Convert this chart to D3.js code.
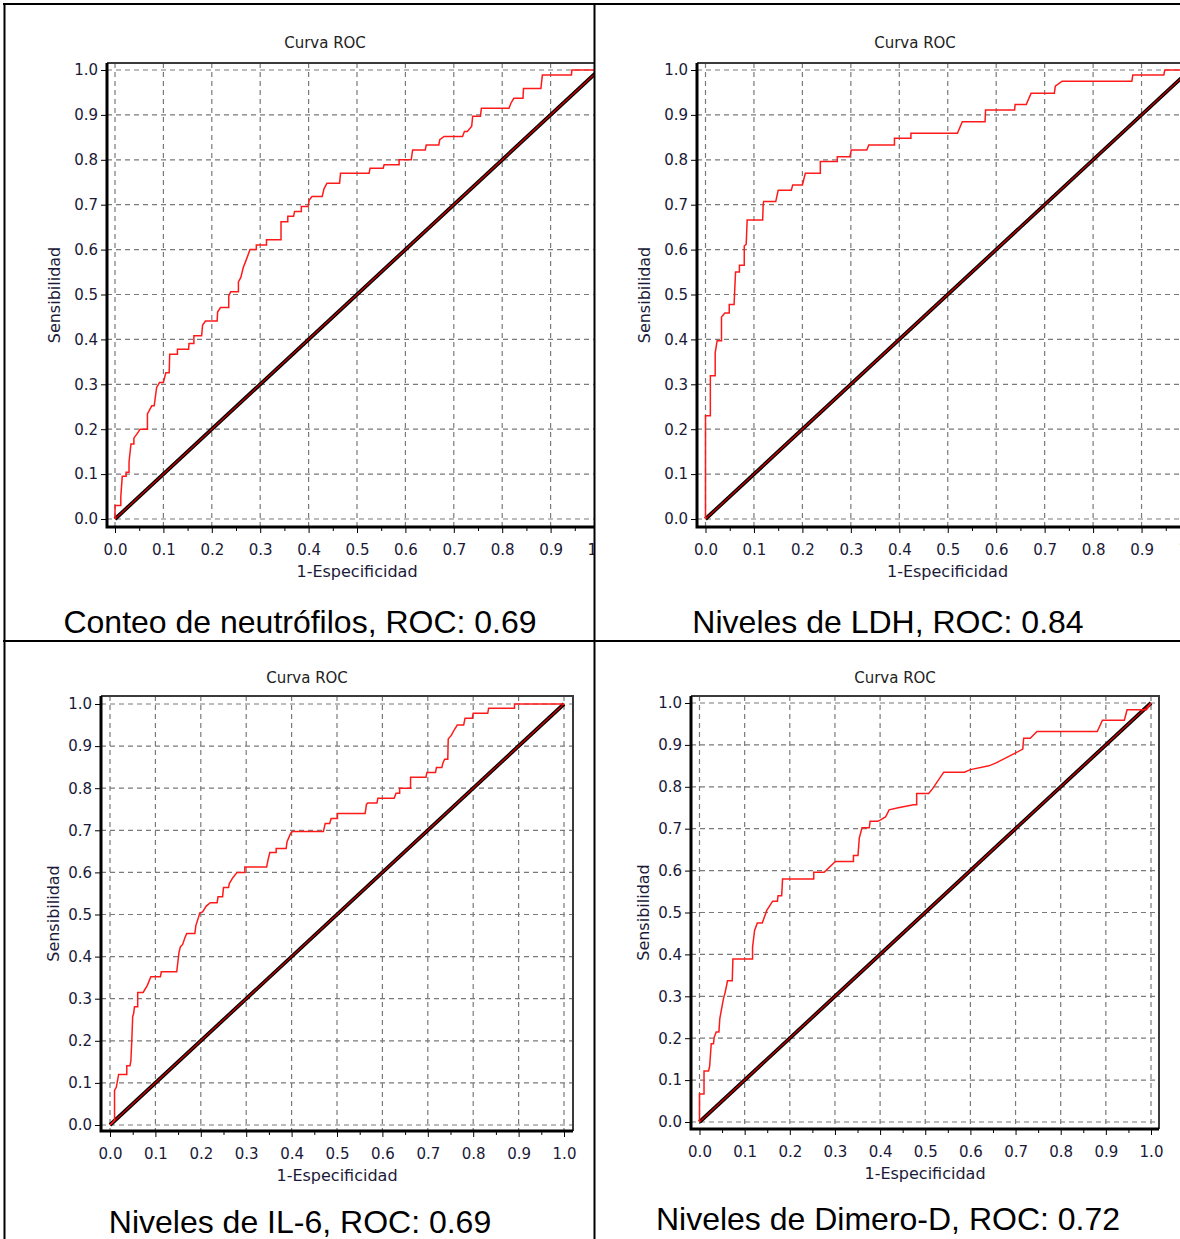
<!DOCTYPE html>
<html>
<head>
<meta charset="utf-8">
<script src="https://cdn.jsdelivr.net/npm/d3@7"></script>
<style>
  body { margin: 0; background: #fff; }
  svg { display: block; }
  .tick text, .lbl { font-family: "DejaVu Sans", sans-serif; fill: #1a1a38; }
  .caption { font-family: "Liberation Sans", Arial, sans-serif; font-size: 32px; fill: #000; }
</style>
</head>
<body>
<svg width="1180" height="1239"></svg>
<script>
// tick values shared by all four panels
const majorTicks = [0, 0.1, 0.2, 0.3, 0.4, 0.5, 0.6, 0.7, 0.8, 0.9, 1.0];
const minorTicks = [0.05, 0.15, 0.25, 0.35, 0.45, 0.55, 0.65, 0.75, 0.85, 0.95];

const chartTitle = "Curva ROC";
const xTitle = "1-Especificidad";
const yTitle = "Sensibilidad";

const captions = [
  "Conteo de neutrófilos, ROC: 0.69",
  "Niveles de LDH, ROC: 0.84",
  "Niveles de IL-6, ROC: 0.69",
  "Niveles de Dimero-D, ROC: 0.72"
];

// reference line
const diagonal = [[0, 0], [1, 1]];

// ROC curves: [1-especificidad, sensibilidad]
const rocNeutrofilos = [[0,0],[0,0.03],[0.012,0.03],[0.012,0.05],[0.015,0.095],[0.023,0.095],[0.023,0.104],[0.029,0.104],[0.029,0.127],[0.033,0.167],[0.039,0.167],[0.039,0.18],[0.045,0.189],[0.052,0.2],[0.067,0.2],[0.067,0.234],[0.076,0.252],[0.081,0.252],[0.086,0.293],[0.092,0.304],[0.1,0.304],[0.105,0.326],[0.112,0.326],[0.113,0.367],[0.129,0.367],[0.129,0.378],[0.152,0.378],[0.153,0.391],[0.163,0.391],[0.163,0.408],[0.179,0.408],[0.181,0.432],[0.187,0.441],[0.211,0.441],[0.212,0.461],[0.218,0.471],[0.235,0.471],[0.235,0.497],[0.239,0.506],[0.255,0.506],[0.255,0.528],[0.26,0.538],[0.265,0.56],[0.269,0.571],[0.279,0.6],[0.292,0.6],[0.292,0.61],[0.313,0.61],[0.313,0.622],[0.343,0.622],[0.343,0.662],[0.357,0.662],[0.357,0.674],[0.369,0.674],[0.371,0.685],[0.385,0.685],[0.385,0.696],[0.399,0.696],[0.401,0.71],[0.407,0.718],[0.428,0.718],[0.432,0.736],[0.438,0.748],[0.464,0.748],[0.466,0.77],[0.525,0.77],[0.527,0.781],[0.554,0.781],[0.556,0.789],[0.587,0.789],[0.587,0.8],[0.612,0.8],[0.615,0.822],[0.641,0.822],[0.643,0.833],[0.669,0.833],[0.671,0.845],[0.68,0.852],[0.718,0.852],[0.722,0.863],[0.728,0.863],[0.737,0.875],[0.739,0.897],[0.755,0.897],[0.757,0.915],[0.814,0.915],[0.818,0.926],[0.824,0.937],[0.843,0.937],[0.844,0.959],[0.88,0.959],[0.883,0.989],[0.943,0.989],[0.944,1],[1,1]];

const rocLDH = [[0,0],[0,0.23],[0.01,0.23],[0.01,0.319],[0.02,0.319],[0.02,0.37],[0.024,0.397],[0.033,0.397],[0.033,0.45],[0.04,0.459],[0.049,0.459],[0.049,0.478],[0.059,0.478],[0.062,0.55],[0.07,0.55],[0.07,0.565],[0.08,0.565],[0.08,0.608],[0.084,0.612],[0.086,0.666],[0.118,0.666],[0.119,0.7],[0.12,0.707],[0.145,0.707],[0.15,0.732],[0.177,0.732],[0.18,0.744],[0.2,0.744],[0.206,0.77],[0.237,0.77],[0.237,0.796],[0.272,0.796],[0.272,0.807],[0.298,0.807],[0.301,0.822],[0.333,0.822],[0.337,0.833],[0.39,0.833],[0.39,0.848],[0.424,0.848],[0.424,0.859],[0.52,0.859],[0.53,0.885],[0.577,0.885],[0.578,0.911],[0.638,0.911],[0.639,0.923],[0.662,0.923],[0.672,0.948],[0.72,0.948],[0.722,0.964],[0.736,0.975],[0.88,0.975],[0.882,0.989],[0.946,0.989],[0.948,1],[1,1]];

const rocIL6 = [[0,0],[0.01,0.011],[0.01,0.082],[0.014,0.09],[0.019,0.12],[0.037,0.12],[0.037,0.141],[0.044,0.141],[0.046,0.152],[0.048,0.2],[0.05,0.258],[0.052,0.264],[0.054,0.281],[0.061,0.281],[0.061,0.315],[0.073,0.315],[0.082,0.331],[0.09,0.352],[0.111,0.352],[0.113,0.364],[0.147,0.364],[0.152,0.41],[0.155,0.423],[0.16,0.429],[0.165,0.445],[0.169,0.455],[0.187,0.455],[0.189,0.473],[0.198,0.504],[0.204,0.506],[0.212,0.52],[0.221,0.528],[0.236,0.528],[0.238,0.542],[0.248,0.542],[0.25,0.564],[0.261,0.564],[0.263,0.574],[0.271,0.588],[0.28,0.6],[0.297,0.6],[0.297,0.613],[0.345,0.613],[0.348,0.629],[0.352,0.647],[0.366,0.647],[0.366,0.657],[0.388,0.657],[0.39,0.673],[0.398,0.693],[0.402,0.697],[0.47,0.697],[0.474,0.716],[0.484,0.716],[0.487,0.728],[0.501,0.728],[0.501,0.74],[0.562,0.74],[0.565,0.762],[0.568,0.765],[0.588,0.765],[0.59,0.776],[0.626,0.776],[0.63,0.788],[0.638,0.788],[0.638,0.8],[0.662,0.8],[0.662,0.826],[0.696,0.826],[0.698,0.837],[0.717,0.837],[0.719,0.849],[0.731,0.849],[0.733,0.859],[0.737,0.869],[0.744,0.869],[0.745,0.917],[0.752,0.926],[0.759,0.94],[0.765,0.95],[0.779,0.95],[0.782,0.966],[0.798,0.966],[0.8,0.978],[0.832,0.978],[0.834,0.99],[0.891,0.99],[0.891,1],[1,1]];

const rocDimeroD = [[0,0],[0,0.067],[0.01,0.067],[0.01,0.122],[0.02,0.122],[0.0225,0.133],[0.026,0.187],[0.031,0.187],[0.0325,0.202],[0.037,0.215],[0.043,0.215],[0.045,0.247],[0.053,0.294],[0.057,0.31],[0.062,0.337],[0.0725,0.337],[0.074,0.389],[0.1175,0.389],[0.1175,0.417],[0.122,0.457],[0.128,0.475],[0.139,0.475],[0.149,0.505],[0.162,0.527],[0.1725,0.527],[0.174,0.54],[0.182,0.54],[0.184,0.58],[0.253,0.58],[0.253,0.596],[0.276,0.596],[0.301,0.622],[0.341,0.622],[0.341,0.636],[0.351,0.636],[0.354,0.678],[0.36,0.702],[0.376,0.702],[0.378,0.718],[0.395,0.718],[0.399,0.72],[0.412,0.728],[0.42,0.745],[0.44,0.75],[0.474,0.757],[0.481,0.757],[0.481,0.784],[0.5075,0.784],[0.516,0.795],[0.541,0.835],[0.587,0.835],[0.6,0.841],[0.641,0.85],[0.657,0.857],[0.697,0.879],[0.716,0.89],[0.718,0.916],[0.7325,0.916],[0.7475,0.932],[0.881,0.932],[0.8925,0.959],[0.941,0.959],[0.947,0.984],[0.99,0.984],[1,1]];

// page layout of the four cells (pixel positions, not data)
const panels = [
  { id: "p1", curve: rocNeutrofilos, caption: captions[0],
    clip: [5, 5, 589, 635], frame: [107, 63, 607, 527], xr: [115, 599], yr: [519, 70],
    title: [325, 48], yTitleX: 54, capY: 633, capX: 300 },
  { id: "p2", curve: rocLDH, caption: captions[1],
    clip: [595, 5, 585, 635], frame: [697, 63, 1198, 527], xr: [705.5, 1190], yr: [519, 70],
    title: [915, 48], yTitleX: 644, capY: 633, capX: 888 },
  { id: "p3", curve: rocIL6, caption: captions[2],
    clip: [5, 642, 589, 597], frame: [101, 696, 573, 1131], xr: [110, 564], yr: [1125, 704],
    title: [307, 683], yTitleX: 53, capY: 1233, capX: 300 },
  { id: "p4", curve: rocDimeroD, caption: captions[3],
    clip: [595, 642, 585, 597], frame: [691, 696, 1159, 1129], xr: [699.5, 1151], yr: [1122, 703],
    title: [895, 683], yTitleX: 643, capY: 1230, capX: 888 }
];

const svg = d3.select("svg");
const defs = svg.append("defs");

panels.forEach(function (p) {
  defs.append("clipPath").attr("id", "clip-" + p.id)
    .append("rect")
    .attr("x", p.clip[0]).attr("y", p.clip[1])
    .attr("width", p.clip[2]).attr("height", p.clip[3]);

  const x = d3.scaleLinear().domain([0, 1]).range(p.xr);
  const y = d3.scaleLinear().domain([0, 1]).range(p.yr);
  const [fl, ft, fr, fb] = p.frame;

  const g = svg.append("g").attr("clip-path", "url(#clip-" + p.id + ")");

  // Grid
  g.append("g").selectAll("line.vgrid")
    .data(majorTicks)
    .join("line")
    .attr("x1", function (d) { return x(d); })
    .attr("x2", function (d) { return x(d); })
    .attr("y1", ft)
    .attr("y2", fb)
    .attr("stroke", "#7a7a7a")
    .attr("stroke-width", 1.2)
    .attr("stroke-dasharray", "5,4");

  g.append("g").selectAll("line.hgrid")
    .data(majorTicks)
    .join("line")
    .attr("x1", fl)
    .attr("x2", fr)
    .attr("y1", function (d) { return y(d); })
    .attr("y2", function (d) { return y(d); })
    .attr("stroke", "#7a7a7a")
    .attr("stroke-width", 1.2)
    .attr("stroke-dasharray", "5,4");

  // Axes
  const xAxis = g.append("g")
    .attr("transform", "translate(0," + fb + ")")
    .call(d3.axisBottom(x).tickValues(majorTicks).tickFormat(d3.format(".1f"))
      .tickSize(6).tickPadding(11).tickSizeOuter(0));
  xAxis.select(".domain").remove();
  xAxis.selectAll("text").attr("font-size", 15);

  const xMinor = g.append("g")
    .attr("transform", "translate(0," + fb + ")")
    .call(d3.axisBottom(x).tickValues(minorTicks).tickFormat("").tickSize(4).tickSizeOuter(0));
  xMinor.select(".domain").remove();

  const yAxis = g.append("g")
    .attr("transform", "translate(" + fl + ",0)")
    .call(d3.axisLeft(y).tickValues(majorTicks).tickFormat(d3.format(".1f"))
      .tickSize(6).tickPadding(3).tickSizeOuter(0));
  yAxis.select(".domain").remove();
  yAxis.selectAll("text").attr("font-size", 15);

  // Frame
  g.append("path")
    .attr("d", "M" + fl + "," + ft + "H" + fr + "V" + fb)
    .attr("fill", "none")
    .attr("stroke", "#3a3a3a")
    .attr("stroke-width", 2);
  g.append("path")
    .attr("d", "M" + fl + "," + ft + "V" + fb + "H" + fr)
    .attr("fill", "none")
    .attr("stroke", "#000")
    .attr("stroke-width", 3);

  const line = d3.line()
    .x(function (d) { return x(d[0]); })
    .y(function (d) { return y(d[1]); });

  // Diagonal
  g.append("path").datum(diagonal)
    .attr("d", line).attr("fill", "none")
    .attr("stroke", "#000").attr("stroke-width", 3.8);
  g.append("path").datum(diagonal)
    .attr("d", line).attr("fill", "none")
    .attr("stroke", "#d80000").attr("stroke-width", 1.2);

  // ROC curve
  g.append("path").datum(p.curve)
    .attr("d", line).attr("fill", "none")
    .attr("stroke", "#ff1a1a").attr("stroke-width", 1.5)
    .attr("stroke-linejoin", "miter");

  // Labels
  g.append("text").attr("class", "lbl")
    .attr("x", p.title[0]).attr("y", p.title[1])
    .attr("text-anchor", "middle").attr("font-size", 15)
    .style("fill", "#222")
    .text(chartTitle);

  g.append("text").attr("class", "lbl")
    .attr("x", (fl + fr) / 2).attr("y", fb + 50)
    .attr("text-anchor", "middle").attr("font-size", 16)
    .text(xTitle);

  g.append("text").attr("class", "lbl")
    .attr("transform", "translate(" + (p.yTitleX + 6) + "," + ((ft + fb) / 2) + ") rotate(-90)")
    .attr("text-anchor", "middle").attr("font-size", 16)
    .text(yTitle);

  svg.append("text").attr("class", "caption")
    .attr("x", p.capX).attr("y", p.capY)
    .attr("text-anchor", "middle")
    .text(p.caption);
});

// Table borders
const borders = svg.append("g").attr("stroke", "#000").attr("stroke-width", 2);
borders.append("line").attr("x1", 3).attr("x2", 1180).attr("y1", 4).attr("y2", 4);
borders.append("line").attr("x1", 3).attr("x2", 1180).attr("y1", 641).attr("y2", 641);
borders.append("line").attr("x1", 4.5).attr("x2", 4.5).attr("y1", 3).attr("y2", 1239);
borders.append("line").attr("x1", 594.5).attr("x2", 594.5).attr("y1", 3).attr("y2", 1239);
</script>
</body>
</html>
